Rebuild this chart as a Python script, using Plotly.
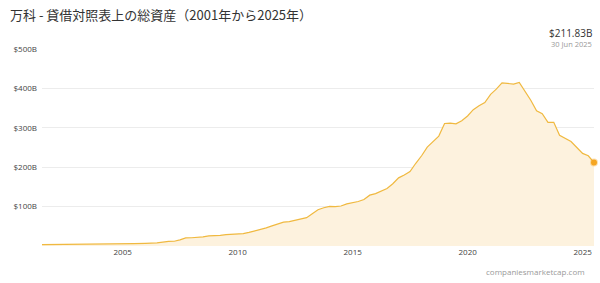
import plotly.graph_objects as go

dates = [
    "2001-06-30", "2001-12-31", "2002-06-30", "2002-12-31", "2003-06-30", "2003-12-31",
    "2004-06-30", "2004-12-31", "2005-06-30", "2005-12-31", "2006-06-30", "2006-12-31",
    "2007-03-31", "2007-06-30", "2007-09-30", "2007-12-31",
    "2008-03-31", "2008-06-30", "2008-09-30", "2008-12-31",
    "2009-03-31", "2009-06-30", "2009-09-30", "2009-12-31",
    "2010-03-31", "2010-06-30", "2010-09-30", "2010-12-31",
    "2011-03-31", "2011-06-30", "2011-09-30", "2011-12-31",
    "2012-03-31", "2012-06-30", "2012-09-30", "2012-12-31",
    "2013-03-31", "2013-06-30", "2013-09-30", "2013-12-31",
    "2014-03-31", "2014-06-30", "2014-09-30", "2014-12-31",
    "2015-03-31", "2015-06-30", "2015-09-30", "2015-12-31",
    "2016-03-31", "2016-06-30", "2016-09-30", "2016-12-31",
    "2017-03-31", "2017-06-30", "2017-09-30", "2017-12-31",
    "2018-03-31", "2018-06-30", "2018-09-30", "2018-12-31",
    "2019-03-31", "2019-06-30", "2019-09-30", "2019-12-31",
    "2020-03-31", "2020-06-30", "2020-09-30", "2020-12-31",
    "2021-03-31", "2021-06-30", "2021-09-30", "2021-12-31",
    "2022-03-31", "2022-06-30", "2022-09-30", "2022-12-31",
    "2023-03-31", "2023-06-30", "2023-09-30", "2023-12-31",
    "2024-03-31", "2024-06-30", "2024-09-30", "2024-12-31",
    "2025-03-31", "2025-06-30",
]
total_assets_b = [
    3.6, 3.7, 3.9, 4.1, 4.3, 4.5,
    4.8, 5.3, 5.8, 6.6, 7.8, 11.5,
    12.0, 15.5, 20.5, 21.0,
    21.5, 23.0, 25.5, 26.0,
    27.0, 29.0, 29.5, 30.0,
    31.5, 34.5, 38.0, 42.0,
    46.0, 51.0, 56.0, 60.5,
    62.0, 65.0, 69.0, 72.0,
    82.0, 92.0, 97.0, 100.5,
    100.0, 101.5, 107.0, 109.5,
    113.0, 118.0, 129.0, 133.0,
    140.0, 146.0, 158.0, 173.0,
    180.0, 189.0, 210.0, 229.0,
    251.0, 266.0, 279.0, 311.0,
    312.0, 310.0, 318.0, 330.0,
    346.0, 356.0, 364.0, 385.0,
    398.0, 414.0, 412.0, 411.0,
    415.0, 393.0, 370.0, 343.0,
    336.0, 314.0, 314.0, 281.0,
    274.0, 265.0, 250.0, 235.0,
    229.0, 211.83,
]

x_tick_vals = ["2005-01-01", "2010-01-01", "2015-01-01", "2020-01-01", "2025-01-01"]
x_tick_text = ["2005", "2010", "2015", "2020", "2025"]
y_tick_vals = [100, 200, 300, 400, 500]
y_tick_text = ["$100B", "$200B", "$300B", "$400B", "$500B"]

title_text = "万科 - 貸借対照表上の総資産（2001年から2025年）"
last_value_text = "$211.83B"
last_date_text = "30 Jun 2025"
source_text = "companiesmarketcap.com"

LINE = "#f0b940"
FILL = "#fdf2de"
MARK = "#f5a623"

fig = go.Figure()
fig.add_trace(go.Scatter(
    x=dates, y=total_assets_b, mode="lines",
    line=dict(color=LINE, width=1.2),
    fill="tozeroy", fillcolor=FILL, hoverinfo="skip",
))
fig.add_trace(go.Scatter(
    x=[dates[-1]], y=[total_assets_b[-1]], mode="markers",
    marker=dict(color=MARK, size=6, line=dict(color="rgba(245,166,35,0.35)", width=2)),
    hoverinfo="skip", cliponaxis=False,
))

W, H = 600, 283
L, R, T, B = 42, 6, 49, 37
pw, ph = W - L - R, H - T - B

def px(xp):
    return (xp - L) / pw

def py(yp):
    return (H - B - yp) / ph

fig.update_layout(
    width=W, height=H,
    margin=dict(l=L, r=R, t=T, b=B, pad=0),
    plot_bgcolor="white", paper_bgcolor="white",
    showlegend=False,
    font=dict(family="Open Sans, Noto Sans, sans-serif", color="#444"),
    xaxis=dict(
        range=[dates[0], dates[-1]],
        tickvals=x_tick_vals, ticktext=x_tick_text,
        showgrid=False, zeroline=False, showline=False,
        ticks="", tickfont=dict(size=8, color="#444"),
        fixedrange=True,
    ),
    yaxis=dict(
        range=[0, 500],
        tickvals=y_tick_vals, ticktext=y_tick_text,
        showgrid=True, gridcolor="#ececec", gridwidth=1,
        zeroline=False, showline=False,
        ticks="", tickfont=dict(size=8, color="#444"),
        ticklabelstandoff=4,
        fixedrange=True,
    ),
    annotations=[
        dict(text=title_text, xref="paper", yref="paper", x=px(8), y=py(14),
             xanchor="left", yanchor="middle", showarrow=False,
             font=dict(family="Noto Sans CJK JP", size=13, color="#333")),
        dict(text=last_value_text, xref="paper", yref="paper", x=px(594), y=py(33),
             xanchor="right", yanchor="middle", showarrow=False,
             font=dict(size=10, color="#333")),
        dict(text=last_date_text, xref="paper", yref="paper", x=px(594), y=py(44),
             xanchor="right", yanchor="middle", showarrow=False,
             font=dict(size=7.5, color="#999")),
        dict(text=source_text, xref="paper", yref="paper", x=px(535), y=py(271),
             xanchor="center", yanchor="middle", showarrow=False,
             font=dict(size=8, color="#999")),
    ],
)

fig.write_html("out.html")
